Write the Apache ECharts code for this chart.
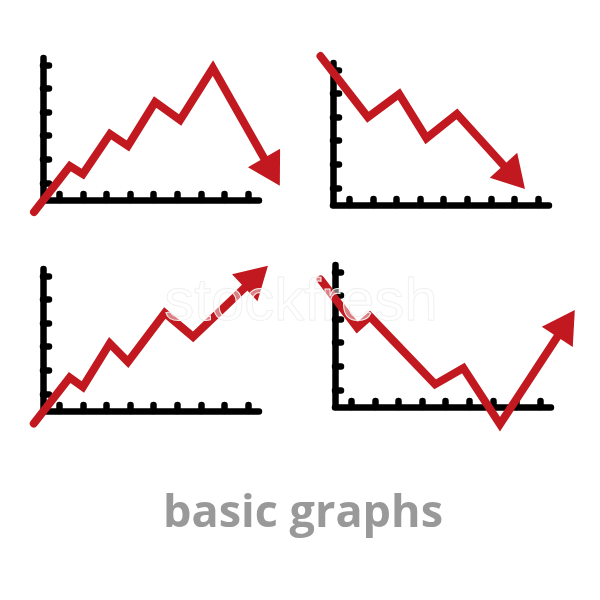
<!DOCTYPE html>
<html>
<head>
<meta charset="utf-8">
<title>basic graphs</title>
<script src="https://cdn.jsdelivr.net/npm/echarts@6/dist/echarts.min.js"></script>
<style>
    html, body { margin: 0; padding: 0; background: #ffffff; }
    #chartContainer { width: 600px; height: 600px; }
</style>
</head>
<body>
<div id="chartContainer"></div>
<script>
// tick dots on every axis
var xTicks = [1, 2, 3, 4, 5, 6, 7, 8, 9];
var yTicks = [1, 2, 3, 4, 5, 6];

// top left: climbs, then drops
var upDownX = [-0.07, 1.45, 2.00, 3.15, 3.91, 5.06, 6.12, 7.51, 10.01];
var upDownY = [-0.24, 1.71, 1.37, 3.07, 2.56, 4.42, 3.66, 5.86, 1.46];

// top right: falling
var downX = [-0.22, 1.79, 3.11, 4.27, 5.56, 7.99];
var downY = [6.58, 3.99, 4.97, 3.10, 4.13, 1.45];

// bottom left: rising
var upX = [-0.08, 1.44, 2.00, 3.14, 3.91, 5.47, 6.67, 9.35];
var upY = [-0.26, 1.69, 1.29, 3.13, 2.35, 4.42, 3.41, 5.96];

// bottom right: falls, then recovers
var downUpX = [-0.30, 1.25, 1.79, 4.55, 5.75, 7.30, 10.10];
var downUpY = [5.67, 3.63, 4.11, 1.23, 1.92, -0.46, 3.81];

var red = '#c1191f';
var step = 23.6;   // px between two ticks
// extent of the visible black axes
var xMin = 0.31, xMax = 9.46;
var yMin = 0.27, yMax = 6.29;
// wider, hidden extent for the red lines (they run past the axes)
var lineXMin = -1, lineXMax = 11;
var lineYMin = -1, lineYMax = 7.5;

// corner (origin) of each little chart, in px
var corners = [[43, 200], [333, 205], [43, 411], [335, 407]];
var panels = [
    [upDownX, upDownY],
    [downX, downY],
    [upX, upY],
    [downUpX, downUpY]
];

function blackAxis(ticks, idx, min, max) {
    return {
        type: 'value',
        gridIndex: idx,
        min: min,
        max: max,
        axisLine: { show: true, onZero: false, lineStyle: { color: '#000', width: 6.5, cap: 'round' } },
        axisTick: { show: true, inside: true, length: 6, customValues: ticks,
                    lineStyle: { color: '#000', width: 6.5, cap: 'round' } },
        axisLabel: { show: false },
        splitLine: { show: false }
    };
}

function hiddenAxis(idx, min, max) {
    return { type: 'value', gridIndex: idx, min: min, max: max, show: false };
}

function arrowLine(xs, ys, idx) {
    var n = xs.length;
    // same px per unit on both axes, so the data angle is the screen angle
    var rot = Math.atan2(ys[n-1] - ys[n-2], xs[n-1] - xs[n-2]) * 180 / Math.PI - 90;
    var pts = [];
    for (var i = 0; i < n - 1; i++) {
        pts.push([xs[i], ys[i]]);
    }
    pts.push({ value: [xs[n-1], ys[n-1]], symbol: 'triangle', symbolSize: [37, 32], symbolRotate: rot });

    return {
        type: 'line',
        xAxisIndex: idx,
        yAxisIndex: idx,
        data: pts,
        symbol: 'none',
        showSymbol: true,
        clip: false,
        silent: true,
        z: 5,
        lineStyle: { color: red, width: 8, cap: 'round', join: 'miter' },
        itemStyle: { color: red, borderWidth: 0 },
        emphasis: { disabled: true }
    };
}

var grids = [], xAxes = [], yAxes = [], series = [];
var np = panels.length;
for (var k = 0; k < np; k++) {
    var ox = corners[k][0], oy = corners[k][1];
    grids.push({
        left: ox, top: oy - (yMax - yMin) * step,
        width: (xMax - xMin) * step, height: (yMax - yMin) * step
    });
    xAxes.push(blackAxis(xTicks, k, xMin, xMax));
    yAxes.push(blackAxis(yTicks, k, yMin, yMax));
}
for (var k = 0; k < np; k++) {
    var ox = corners[k][0], oy = corners[k][1];
    // same units as the black axes, just a bigger box
    grids.push({
        left: ox + (lineXMin - xMin) * step, top: oy - (lineYMax - yMin) * step,
        width: (lineXMax - lineXMin) * step, height: (lineYMax - lineYMin) * step
    });
    xAxes.push(hiddenAxis(np + k, lineXMin, lineXMax));
    yAxes.push(hiddenAxis(np + k, lineYMin, lineYMax));
    series.push(arrowLine(panels[k][0], panels[k][1], np + k));
}

var option = {
    animation: false,
    backgroundColor: '#ffffff',
    grid: grids,
    xAxis: xAxes,
    yAxis: yAxes,
    series: series,
    graphic: [
        {
            type: 'text',
            x: 303,
            y: 514,
            z: 10,
            style: {
                text: 'basic graphs',
                font: 'bold 45px "Open Sans"',
                fill: '#999999',
                textAlign: 'center',
                textVerticalAlign: 'middle'
            }
        },
        {
            // faint stock watermark over the middle
            type: 'text',
            x: 301,
            y: 303,
            z: 100,
            silent: true,
            style: {
                text: 'stockfresh',
                font: '60px "Liberation Sans"',
                fill: 'rgba(255,255,255,0.45)',
                stroke: '#ececec',
                lineWidth: 1,
                textAlign: 'center',
                textVerticalAlign: 'middle'
            }
        }
    ]
};

var chartDom = document.getElementById('chartContainer');
var chart = echarts.init(chartDom);
chart.setOption(option, true);
</script>
</body>
</html>
